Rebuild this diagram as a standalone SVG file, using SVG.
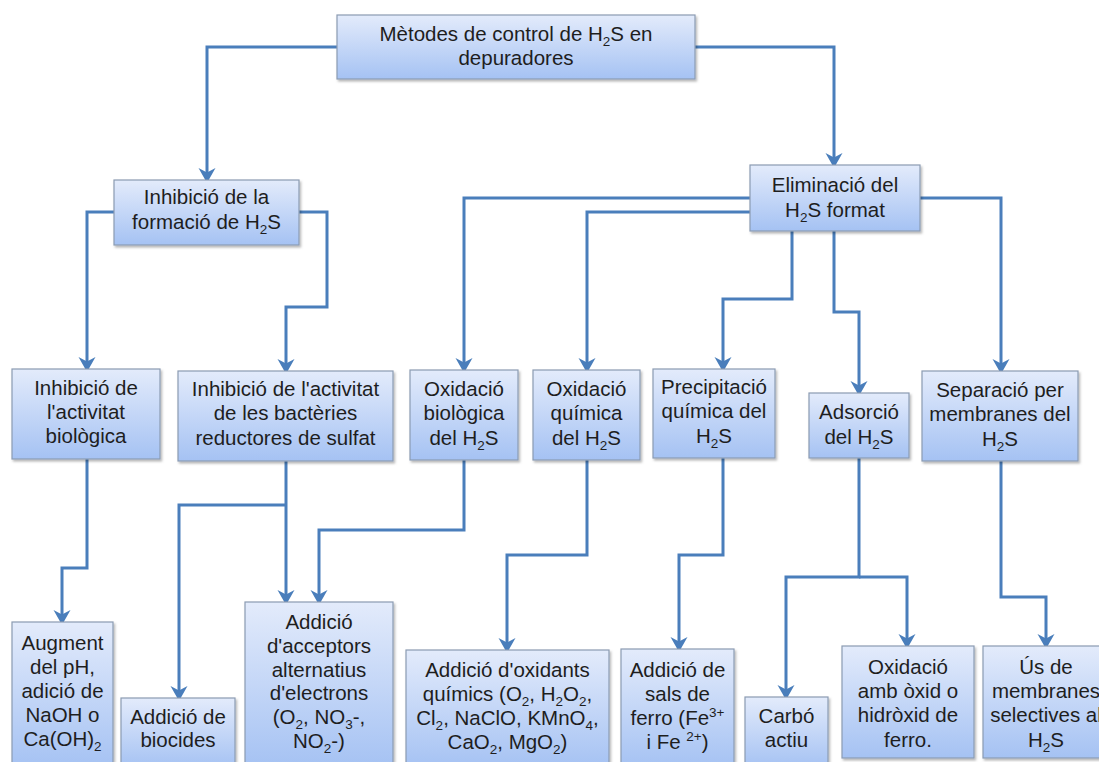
<svg xmlns="http://www.w3.org/2000/svg" width="1099" height="762" viewBox="0 0 1099 762">
  <defs>
    <linearGradient id="boxFill" x1="0" y1="0" x2="0" y2="1">
      <stop offset="0" stop-color="#e3ebfb"/>
      <stop offset="1" stop-color="#a5c2f3"/>
    </linearGradient>
    <filter id="shadow" x="-10%" y="-10%" width="125%" height="130%">
      <feDropShadow dx="1.5" dy="2" stdDeviation="1.2" flood-color="#000" flood-opacity="0.28"/>
    </filter>
    <marker id="arrow" viewBox="-17 -10 18 20" refX="-3" refY="0" markerWidth="18" markerHeight="20" markerUnits="userSpaceOnUse" orient="auto">
      <path d="M0,0 L-15,-8.5 L-10.5,0 L-15,8.5 Z" fill="#4a7ebb"/>
    </marker>
  </defs>
  <style>
    .box { fill: url(#boxFill); stroke: #8b9bb2; stroke-width: 1.2; filter: url(#shadow); }
    .lbl { font-family: "Liberation Sans", Arial, sans-serif; font-size: 20.5px; fill: #1e1e1e; text-anchor: middle; }
    .sub { font-size: 13.5px; }
    .link { fill: none; stroke: #4a7ebb; stroke-width: 3; stroke-linejoin: miter; }
    .arr { marker-end: url(#arrow); }
  </style>

  <!-- connectors -->
  <g id="connectors">
    <path class="link arr" d="M337,47 H207 V180"/>
    <path class="link arr" d="M695,47 H834 V165"/>
    <path class="link arr" d="M114,212 H87 V369"/>
    <path class="link arr" d="M299,212 H327 V307 H286 V371"/>
    <path class="link arr" d="M750,198 H464 V370"/>
    <path class="link arr" d="M750,212 H587 V370"/>
    <path class="link arr" d="M792,231 V299 H723 V369"/>
    <path class="link arr" d="M834,231 V312 H859 V393"/>
    <path class="link arr" d="M920,198 H1001 V371"/>
    <path class="link arr" d="M87,459 V568 H62 V622"/>
    <path class="link arr" d="M286,461 V602"/>
    <path class="link arr" d="M286,505 H179 V698"/>
    <path class="link arr" d="M464,460 V530 H319 V602"/>
    <path class="link arr" d="M587,460 V555 H507 V650"/>
    <path class="link arr" d="M723,458 V555 H679 V649"/>
    <path class="link arr" d="M859,458 V577 H786 V697"/>
    <path class="link arr" d="M859,577 H907 V646"/>
    <path class="link arr" d="M1001,460 V597 H1046 V646"/>
  </g>

  <g id="n-metodes">
    <rect class="box" x="337" y="15" width="358" height="64"/>
    <text class="lbl" x="516" y="41">Mètodes de control de H<tspan class="sub" dy="5">2</tspan><tspan dy="-5">S en</tspan></text>
    <text class="lbl" x="516" y="65">depuradores</text>
  </g>

  <g id="n-inhibicio-formacio">
    <rect class="box" x="114" y="180" width="185" height="65"/>
    <text class="lbl" x="206.5" y="204">Inhibició de la</text>
    <text class="lbl" x="206.5" y="229">formació de H<tspan class="sub" dy="5">2</tspan><tspan dy="-5">S</tspan></text>
  </g>

  <g id="n-eliminacio">
    <rect class="box" x="750" y="165" width="170" height="66"/>
    <text class="lbl" x="835" y="192">Eliminació del</text>
    <text class="lbl" x="835" y="217">H<tspan class="sub" dy="5">2</tspan><tspan dy="-5">S format</tspan></text>
  </g>

  <g id="n-inhibicio-activitat">
    <rect class="box" x="12" y="369" width="148" height="90"/>
    <text class="lbl" x="86" y="395">Inhibició de</text>
    <text class="lbl" x="86" y="419">l'activitat</text>
    <text class="lbl" x="86" y="443">biològica</text>
  </g>

  <g id="n-inhibicio-bacteries">
    <rect class="box" x="178" y="371" width="215" height="90"/>
    <text class="lbl" x="285.5" y="396">Inhibició de l'activitat</text>
    <text class="lbl" x="285.5" y="420">de les bactèries</text>
    <text class="lbl" x="285.5" y="445">reductores de sulfat</text>
  </g>

  <g id="n-oxidacio-biologica">
    <rect class="box" x="410" y="370" width="108" height="90"/>
    <text class="lbl" x="464" y="396">Oxidació</text>
    <text class="lbl" x="464" y="420">biològica</text>
    <text class="lbl" x="464" y="445">del H<tspan class="sub" dy="5">2</tspan><tspan dy="-5">S</tspan></text>
  </g>

  <g id="n-oxidacio-quimica">
    <rect class="box" x="533" y="370" width="107" height="90"/>
    <text class="lbl" x="586.5" y="396">Oxidació</text>
    <text class="lbl" x="586.5" y="420">química</text>
    <text class="lbl" x="586.5" y="445">del H<tspan class="sub" dy="5">2</tspan><tspan dy="-5">S</tspan></text>
  </g>

  <g id="n-precipitacio">
    <rect class="box" x="653" y="369" width="122" height="89"/>
    <text class="lbl" x="714" y="394">Precipitació</text>
    <text class="lbl" x="714" y="418">química del</text>
    <text class="lbl" x="714" y="443">H<tspan class="sub" dy="5">2</tspan><tspan dy="-5">S</tspan></text>
  </g>

  <g id="n-adsorcio">
    <rect class="box" x="809" y="393" width="100" height="65"/>
    <text class="lbl" x="859" y="419">Adsorció</text>
    <text class="lbl" x="859" y="444">del H<tspan class="sub" dy="5">2</tspan><tspan dy="-5">S</tspan></text>
  </g>

  <g id="n-separacio">
    <rect class="box" x="922" y="371" width="156" height="90"/>
    <text class="lbl" x="1000" y="397">Separació per</text>
    <text class="lbl" x="1000" y="421">membranes del</text>
    <text class="lbl" x="1000" y="446">H<tspan class="sub" dy="5">2</tspan><tspan dy="-5">S</tspan></text>
  </g>

  <g id="n-augment-ph">
    <rect class="box" x="12" y="622" width="101" height="146"/>
    <text class="lbl" x="62.5" y="650">Augment</text>
    <text class="lbl" x="62.5" y="674">del pH,</text>
    <text class="lbl" x="62.5" y="698">adició de</text>
    <text class="lbl" x="62.5" y="722">NaOH o</text>
    <text class="lbl" x="62.5" y="746">Ca(OH)<tspan class="sub" dy="5">2</tspan></text>
  </g>

  <g id="n-biocides">
    <rect class="box" x="121" y="698" width="114" height="70"/>
    <text class="lbl" x="178" y="724">Addició de</text>
    <text class="lbl" x="178" y="747">biocides</text>
  </g>

  <g id="n-acceptors">
    <rect class="box" x="245" y="602" width="148" height="166"/>
    <text class="lbl" x="319" y="629">Addició</text>
    <text class="lbl" x="319" y="653">d'acceptors</text>
    <text class="lbl" x="319" y="677">alternatius</text>
    <text class="lbl" x="319" y="700">d'electrons</text>
    <text class="lbl" x="319" y="724">(O<tspan class="sub" dy="5">2</tspan><tspan dy="-5">, NO</tspan><tspan class="sub" dy="5">3</tspan><tspan dy="-5">-,</tspan></text>
    <text class="lbl" x="319" y="748">NO<tspan class="sub" dy="5">2</tspan><tspan dy="-5">-)</tspan></text>
  </g>

  <g id="n-oxidants">
    <rect class="box" x="406" y="650" width="203" height="118"/>
    <text class="lbl" x="507.5" y="677">Addició d'oxidants</text>
    <text class="lbl" x="507.5" y="701">químics (O<tspan class="sub" dy="5">2</tspan><tspan dy="-5">, H</tspan><tspan class="sub" dy="5">2</tspan><tspan dy="-5">O</tspan><tspan class="sub" dy="5">2</tspan><tspan dy="-5">,</tspan></text>
    <text class="lbl" x="507.5" y="725">Cl<tspan class="sub" dy="5">2</tspan><tspan dy="-5">, NaClO, KMnO</tspan><tspan class="sub" dy="5">4</tspan><tspan dy="-5">,</tspan></text>
    <text class="lbl" x="507.5" y="749">CaO<tspan class="sub" dy="5">2</tspan><tspan dy="-5">, MgO</tspan><tspan class="sub" dy="5">2</tspan><tspan dy="-5">)</tspan></text>
  </g>

  <g id="n-sals-ferro">
    <rect class="box" x="621" y="649" width="113" height="119"/>
    <text class="lbl" x="677.5" y="677">Addició de</text>
    <text class="lbl" x="677.5" y="701">sals de</text>
    <text class="lbl" x="677.5" y="725">ferro (Fe<tspan class="sub" dy="-8">3+</tspan></text>
    <text class="lbl" x="677.5" y="749">i Fe <tspan class="sub" dy="-8">2+</tspan><tspan dy="8">)</tspan></text>
  </g>

  <g id="n-carbo">
    <rect class="box" x="745" y="697" width="83" height="71"/>
    <text class="lbl" x="786.5" y="723">Carbó</text>
    <text class="lbl" x="786.5" y="747">actiu</text>
  </g>

  <g id="n-oxid-ferro">
    <rect class="box" x="842" y="646" width="132" height="112"/>
    <text class="lbl" x="908" y="674">Oxidació</text>
    <text class="lbl" x="908" y="698">amb òxid o</text>
    <text class="lbl" x="908" y="722">hidròxid de</text>
    <text class="lbl" x="908" y="747">ferro.</text>
  </g>

  <g id="n-membranes">
    <rect class="box" x="983" y="646" width="126" height="112"/>
    <text class="lbl" x="1046" y="674">Ús de</text>
    <text class="lbl" x="1046" y="698">membranes</text>
    <text class="lbl" x="1046" y="722">selectives al</text>
    <text class="lbl" x="1046" y="747">H<tspan class="sub" dy="5">2</tspan><tspan dy="-5">S</tspan></text>
  </g>
</svg>
